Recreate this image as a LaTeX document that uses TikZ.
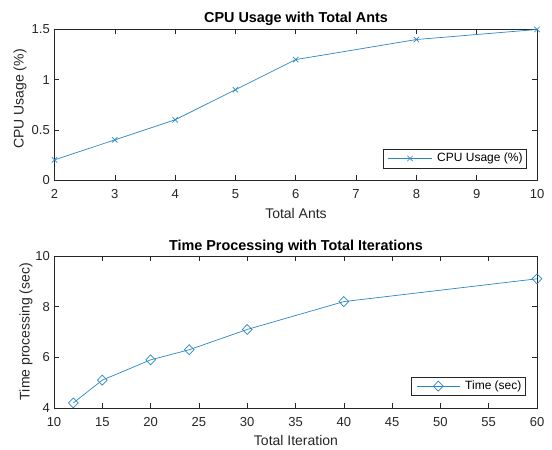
\documentclass[tikz,border=0pt]{standalone}
\usepackage{fontspec}
\setmainfont{Liberation Sans}
\usetikzlibrary{plotmarks}
\definecolor{mblue}{rgb}{0.16,0.53,0.79}
\definecolor{axgray}{rgb}{0.15,0.15,0.15}
\begin{document}
\begin{tikzpicture}[x=1pt,y=1pt,
  ticklab/.style={font=\fontsize{13}{15}\selectfont, text=axgray, inner sep=0},
  axlab/.style={font=\fontsize{14}{16}\selectfont, text=axgray, inner sep=0},
  ttl/.style={font=\fontsize{14.4}{16}\selectfont\bfseries, text=black, inner sep=0},
  leg/.style={font=\fontsize{12}{14}\selectfont, text=black, inner sep=0, anchor=west},
  axbox/.style={draw=axgray, line width=0.6pt},
  legbox/.style={draw=axgray, fill=white, line width=0.6pt},
  dataline/.style={draw=mblue, line width=0.7pt},
  xmk/.style={mark=x, mark size=3.8pt, mark options={solid, draw=mblue}},
  dmk/.style={mark=diamond, mark size=5pt, mark options={solid, draw=mblue, fill=none, xscale=1.3}}]
\useasboundingbox (0,0) rectangle (552,450);
\fill[white] (0,0) rectangle (552,450);

% ---------------- top plot ----------------
\draw[axbox] (54.5,270) rectangle (537,420.5);
\foreach \i in {0,...,8} {
  \draw[axbox] ({54.5+60.3125*\i},270) -- ++(0,4.8);
  \draw[axbox] ({54.5+60.3125*\i},420.5) -- ++(0,-4.8);
  \pgfmathtruncatemacro{\lab}{\i+2}
  \node[ticklab] (tx\i) at ({54.5+60.3125*\i},256) {\lab};
}
\foreach \v/\t [count=\k] in {0/0,0.5/0.5,1/1,1.5/1.5} {
  \draw[axbox] (54.5,{270+100.333*\v}) -- ++(4.8,0);
  \draw[axbox] (537,{270+100.333*\v}) -- ++(-4.8,0);
  \node[ticklab, anchor=east] (ty\k) at (50,{270+100.333*\v}) {\t};
}
\node[ttl] (t1) at (296,431) {CPU Usage with Total Ants};
\node[axlab] (xl1) at (296,237) {Total Ants};
\node[axlab, rotate=90] (yl1) at (20,351) {CPU Usage (\%)};
\begin{scope}[shift={(54.5,270)}, x=60.3125pt, y=100.333pt]
  \draw[dataline] plot[xmk]
    coordinates {(0,0.2) (1,0.4) (2,0.6) (3,0.9) (4,1.2) (6,1.4) (8,1.5)};
\end{scope}
\draw[legbox] (383,282) rectangle (526,301);
\coordinate (l1a) at (388,291.5);
\coordinate (l1b) at (432,291.5);
\draw[dataline] (l1a) -- (l1b);
\draw[dataline] plot[xmk] coordinates {(410,291.5)};
\node[leg] (lg1) at (437,291.5) {CPU Usage (\%)};

% ---------------- bottom plot ----------------
\draw[axbox] (54,42) rectangle (537,194);
\foreach \i in {0,...,10} {
  \draw[axbox] ({54+48.3*\i},42) -- ++(0,4.8);
  \draw[axbox] ({54+48.3*\i},194) -- ++(0,-4.8);
  \pgfmathtruncatemacro{\lab}{10+5*\i}
  \node[ticklab] (bx\i) at ({54+48.3*\i},28) {\lab};
}
\foreach \v [count=\k] in {4,6,8,10} {
  \draw[axbox] (54,{42+25.333*(\v-4)}) -- ++(4.8,0);
  \draw[axbox] (537,{42+25.333*(\v-4)}) -- ++(-4.8,0);
  \node[ticklab, anchor=east] (by\k) at (50,{42+25.333*(\v-4)}) {\v};
}
\node[ttl] (t2) at (296,203.3) {Time Processing with Total Iterations};
\node[axlab] (xl2) at (296,10) {Total Iteration};
\node[axlab, rotate=90] (yl2) at (26,118.5) {Time processing (sec)};
\begin{scope}[shift={(54,42)}, x=9.66pt, y=25.333pt]
  \draw[dataline] plot[dmk]
    coordinates {(2,0.2) (5,1.1) (10,1.9) (14,2.3) (20,3.1) (30,4.2) (50,5.1)};
\end{scope}
\draw[legbox] (411.7,55) rectangle (525.7,72.7);
\coordinate (l2a) at (416.7,63.85);
\coordinate (l2b) at (460,63.85);
\draw[dataline] (l2a) -- (l2b);
\draw[dataline] plot[dmk] coordinates {(438.3,63.85)};
\node[leg] (lg2) at (465,63.85) {Time (sec)};
\end{tikzpicture}
\end{document}
